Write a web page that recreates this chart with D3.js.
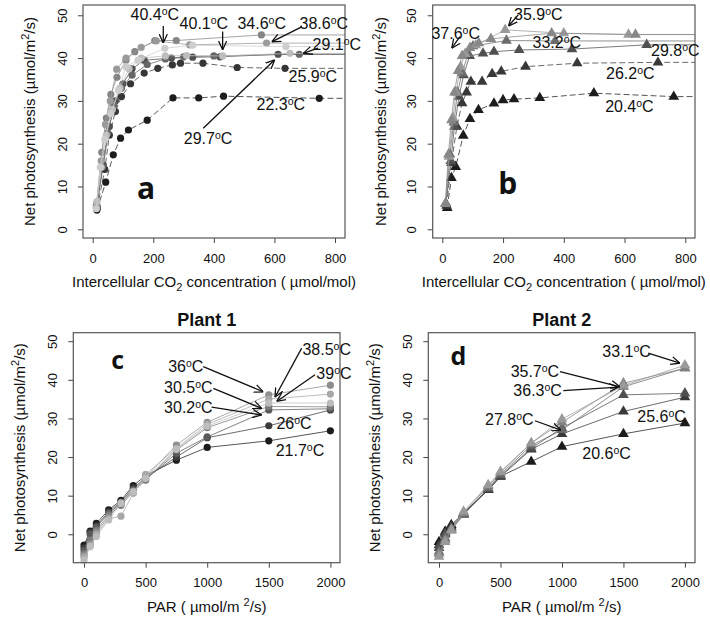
<!DOCTYPE html>
<html lang="en">
<head>
<meta charset="UTF-8">
<title>Net photosynthesis</title>
<script src="https://cdn.jsdelivr.net/npm/d3@7/dist/d3.min.js"></script>
<style>
    * { margin: 0; }
    body { background: #fff; }
    svg text { font-family: "Liberation Sans", Arial, sans-serif; fill: #111; }
</style>
</head>
<body>
<svg id="chart" width="710" height="619"></svg>
<script>
// ---- data ----
// panel a: A/Ci curves, plant 1 (circles)
const tempsA = ['22.3', '25.9', '29.7', '29.1', '34.6', '38.6', '40.1', '40.4'];
const ciA = [
    [14, 43, 68, 92, 118, 180, 265, 350, 432, 748],
    [15, 40, 55, 75, 95, 125, 170, 215, 263, 290, 364, 477, 635],
    [14, 35, 55, 75, 100, 130, 170, 260, 330, 420, 612],
    [12, 32, 50, 70, 95, 130, 180, 240, 300, 400, 682],
    [13, 30, 45, 60, 80, 110, 139, 205, 276, 557],
    [12, 28, 42, 58, 79, 110, 160, 210, 320, 574],
    [14, 28, 45, 65, 90, 120, 160, 240, 310, 429, 651],
    [12, 25, 40, 60, 85, 110, 150, 238, 330, 638]
];
const anA = [
    [4.5, 11, 17.4, 21.3, 23.2, 25.5, 30.7, 30.7, 31.1, 30.6],
    [5, 14, 22, 27.5, 31, 34, 36.5, 37.6, 38.4, 38.8, 38.8, 37.8, 37.6],
    [5.5, 15, 24, 30, 34, 37.5, 39.5, 40, 40.2, 40.3, 40.9],
    [5, 14.5, 22.5, 29, 33, 36, 38.5, 39.8, 40.3, 40.5, 40.9],
    [6, 18, 26, 31.5, 35.5, 39.5, 41.5, 44.1, 44.1, 45.4],
    [5.5, 16, 24.5, 30, 37.4, 40, 42.5, 44, 43.1, 43.5],
    [6.5, 14.5, 22, 28, 33, 37.5, 40, 40.5, 40.6, 40.5, 41.1],
    [4.8, 14.5, 21, 27, 32.5, 38, 39.5, 42.3, 43, 42.7]
];

// panel b: A/Ci curves, plant 2 (triangles)
const tempsB = ['20.4', '26.2', '29.8', '33.2', '35.9', '37.6'];
const ciB = [
    [16, 30, 44, 69, 91, 119, 170, 200, 236, 321, 499, 762],
    [14, 30, 48, 65, 80, 94, 131, 164, 194, 274, 444, 710],
    [12, 28, 40, 55, 70, 90, 134, 170, 253, 427, 673],
    [12, 25, 38, 50, 65, 85, 101, 211, 371],
    [10, 22, 35, 45, 60, 75, 110, 207, 400, 613],
    [10, 20, 30, 40, 52, 65, 91, 120, 160, 360, 636]
];
const anB = [
    [5, 12, 14.6, 21.9, 25.8, 27.9, 29.4, 30.2, 30.4, 30.7, 31.8, 31.0],
    [5.5, 15.5, 24, 29.5, 32, 34.5, 34.5, 36.3, 36.9, 38, 38.8, 39],
    [6, 16, 24, 31, 36, 40.5, 41.1, 41.5, 41.9, 42.1, 43.1],
    [6, 17.5, 25, 32, 36.5, 41, 42.8, 44.1, 44.0],
    [6, 17, 26, 32, 38, 41, 43, 46.6, 45.8, 45.5],
    [6, 17.5, 25.5, 32, 37, 40.5, 42.4, 43.5, 44.5, 45.8, 45.5]
];

// panel c: light curves, plant 1
const parC = [0, 50, 100, 200, 300, 400, 500, 750, 1000, 1500, 2000];
const tempsC = ['21.7', '26', '30.2', '30.5', '36', '38.5', '39'];
const anC = [
    [-2.8, 0.8, 2.8, 6.3, 8.8, 12.6, 15.2, 19.2, 22.5, 24.2, 26.8],
    [-3.5, 0.5, 2.2, 5.8, 8.4, 12.0, 14.6, 20.0, 25.0, 28.1, 32.2],
    [-4.2, 0.0, 1.8, 5.5, 8.0, 11.5, 14.2, 21.0, 25.2, 32.2, 32.5],
    [-5.0, -1.5, 1.0, 5.0, 7.5, 11.0, 14.0, 21.8, 27.6, 33.1, 33.0],
    [-5.5, -2.5, 0.5, 4.5, 8.2, 11.2, 14.8, 23.1, 29.0, 36.1, 38.6],
    [-6.0, -3.0, 0.0, 4.0, 4.7, 10.6, 15.5, 22.3, 28.5, 35.0, 36.3],
    [-6.7, -3.2, -0.6, 3.7, 8.0, 11.0, 14.5, 22.0, 28.0, 34.0, 34.0]
];

// panel d: light curves, plant 2
const parD = [0, 50, 100, 200, 400, 500, 750, 1000, 1500, 2000];
const tempsD = ['20.6', '25.6', '27.8', '36.3', '35.7', '33.1'];
const anD = [
    [-2.0, 0.7, 2.4, 5.5, 11.5, 15.0, 18.8, 22.7, 26.0, 28.8],
    [-2.8, 0.3, 2.0, 5.3, 11.5, 14.9, 22.0, 26.0, 31.8, 35.5],
    [-3.5, 0.0, 1.5, 5.2, 11.8, 15.2, 22.3, 27.5, 36.1, 36.5],
    [-4.5, -1.0, 1.1, 5.0, 12.0, 15.5, 23.0, 27.0, 38.2, 43.0],
    [-5.0, -1.5, 1.3, 5.5, 12.5, 16.0, 23.6, 29.0, 39.1, 43.0],
    [-5.8, -2.0, 1.0, 5.9, 12.8, 16.2, 23.6, 29.8, 38.5, 43.8]
];

const ciTicks = [0, 200, 400, 600, 800];
const parTicks = [0, 500, 1000, 1500, 2000];
const anTicks = [0, 10, 20, 30, 40, 50];

// temperature labels: [text, x, y] and optional arrow [x1, y1, x2, y2], in data units
const labA = [
    ['40.4', 205, 50.1, [233, 47.5, 233, 43.5]],
    ['40.1', 367, 48.1, [429, 46.2, 429, 41.9]],
    ['34.6', 558, 48.1],
    ['38.6', 763, 48.1, [690, 47.3, 591, 43.8]],
    ['29.1', 806, 43.1, [744, 42.3, 695, 41.1]],
    ['25.9', 727, 35.8],
    ['22.3', 621, 29.2],
    ['29.7', 381, 21.3, [365, 23.6, 601, 39.6]]
];
const labB = [
    ['37.6', 44, 45.8, [58, 45.0, 31, 42.3]],
    ['35.9', 316, 50.1, [250, 50.1, 218, 47.5]],
    ['33.2', 377, 43.6],
    ['29.8', 767, 41.9],
    ['26.2', 619, 36.4],
    ['20.4', 616, 28.8]
];
const labC = [
    ['36', 826, 43.6, [968, 43.4, 1455, 36.9]],
    ['30.5', 847, 38.1, [1050, 37.8, 1442, 32.6]],
    ['30.2', 847, 32.9, [1036, 32.9, 1442, 30.9]],
    ['38.5', 1970, 47.9, [1767, 48.2, 1550, 35.5]],
    ['39', 2029, 41.7, [1875, 41.3, 1564, 34.4]],
    ['26', 1705, 28.6],
    ['21.7', 1753, 21.8]
];
const labD = [
    ['33.1', 1526, 47.3, [1702, 46.9, 1959, 44.3]],
    ['35.7', 780, 42.1, [984, 42.1, 1472, 38.2]],
    ['36.3', 802, 37.2, [1011, 37.2, 1458, 38.1]],
    ['27.8', 572, 29.8, [780, 29.4, 992, 27.0]],
    ['25.6', 1810, 30.5],
    ['20.6', 1363, 21.0]
];

// ---- drawing ----
const svg = d3.select('#chart');

svg.append('defs').append('marker')
    .attr('id', 'head')
    .attr('viewBox', '0 0 10 10')
    .attr('refX', 10).attr('refY', 5)
    .attr('markerWidth', 9).attr('markerHeight', 9)
    .attr('markerUnits', 'userSpaceOnUse')
    .attr('orient', 'auto')
    .append('path')
    .attr('d', 'M0,0.5 L10,5 L0,9.5')
    .attr('fill', 'none').attr('stroke', '#111').attr('stroke-width', 1.4);

const panels = [
    { letter: 'a', box: [83, 345, 5, 238], xd: [-32, 833], yd: [-2.03, 52.4], xt: ciTicks,
      xs: ciA, ys: anA, temps: tempsA, labs: labA, shape: 'circle',
      grays: ['#1c1c1c', '#363636', '#4f4f4f', '#666', '#858585', '#9a9a9a', '#bdbdbd', '#cdcdcd'],
      extend: true, dashed: true, title: null, ytx: 30, lpos: [176, 9.6], lsize: 30, xlab: 'ci' },
    { letter: 'b', box: [432.7, 695, 5, 238], xd: [-31.7, 832], yd: [-2.03, 52.4], xt: ciTicks,
      xs: ciB, ys: anB, temps: tempsB, labs: labB, shape: 'tri',
      grays: ['#1c1c1c', '#383838', '#505050', '#6c6c6c', '#9a9a9a', '#888'],
      extend: true, dashed: true, title: null, ytx: 381, lpos: [215, 10.7], lsize: 30, xlab: 'ci' },
    { letter: 'c', box: [73.3, 340, 332.7, 562.7], xd: [-87, 2078], yd: [-7.36, 52.2], xt: parTicks,
      xs: tempsC.map(() => parC), ys: anC, temps: tempsC, labs: labC, shape: 'circle',
      grays: ['#1c1c1c', '#3c3c3c', '#5a5a5a', '#7a7a7a', '#8e8e8e', '#a8a8a8', '#bdbdbd'],
      extend: false, dashed: false, title: 'Plant 1', ytx: 20, lpos: [274, 45], lsize: 25, xlab: 'par' },
    { letter: 'd', box: [428.3, 695, 332.7, 562.7], xd: [-87, 2082], yd: [-7.36, 52.2], xt: parTicks,
      xs: tempsD.map(() => parD), ys: anD, temps: tempsD, labs: labD, shape: 'tri',
      grays: ['#1c1c1c', '#3a3a3a', '#505050', '#6a6a6a', '#808080', '#9a9a9a'],
      extend: false, dashed: false, title: 'Plant 2', ytx: 375, lpos: [157, 46], lsize: 25, xlab: 'par' }
];

panels.forEach(drawPanel);

function drawPanel(p) {
    const [left, right, top, bottom] = p.box;
    const x = d3.scaleLinear().domain(p.xd).range([left, right]);
    const y = d3.scaleLinear().domain(p.yd).range([bottom, top]);
    const g = svg.append('g');

    // axes (R style: ticks outside, labels parallel to the axis)
    const gx = g.append('g').attr('transform', `translate(0,${bottom})`)
        .call(d3.axisBottom(x).tickValues(p.xt).tickSize(5).tickFormat(d3.format('d')));
    gx.select('.domain').remove();
    gx.selectAll('text').attr('y', 20).attr('dy', '0.35em')
        .style('font-size', '13px').style('font-family', '"Liberation Sans", Arial, sans-serif').attr('fill', '#111');

    const gy = g.append('g').attr('transform', `translate(${left},0)`)
        .call(d3.axisLeft(y).tickValues(anTicks).tickSize(5));
    gy.select('.domain').remove();
    gy.selectAll('text').attr('x', 0).attr('dy', '0.35em')
        .attr('text-anchor', 'middle').attr('transform', 'translate(-21,0) rotate(-90)')
        .style('font-size', '13px').style('font-family', '"Liberation Sans", Arial, sans-serif').attr('fill', '#111');
    g.selectAll('.tick line').attr('stroke', '#444');

    // series
    const line = d3.line().x(d => x(d[0])).y(d => y(d[1]));
    p.temps.forEach((t, i) => {
        const pts = p.xs[i].map((v, j) => [v, p.ys[i][j]]);
        const col = p.grays[i];
        let path = pts.slice();
        if (p.extend) path.push([p.xd[1], pts[pts.length - 1][1]]);
        g.append('path').attr('d', line(path))
            .attr('fill', 'none').attr('stroke', col).attr('stroke-width', 0.75)
            .attr('stroke-dasharray', p.dashed && i < 2 ? '6,3' : null);
        if (p.shape === 'circle') {
            g.selectAll(null).data(pts).join('circle')
                .attr('cx', d => x(d[0])).attr('cy', d => y(d[1]))
                .attr('r', 3.6).attr('fill', col);
        } else {
            const tri = d3.symbol().type(d3.symbolTriangle).size(50);
            g.selectAll(null).data(pts).join('path')
                .attr('d', tri)
                .attr('transform', d => `translate(${x(d[0])},${y(d[1])})`)
                .attr('fill', col);
        }
    });

    // box
    g.append('rect').attr('x', left).attr('y', top)
        .attr('width', right - left).attr('height', bottom - top)
        .attr('fill', 'none').attr('stroke', '#555').attr('stroke-width', 1.2);

    // temperature annotations
    p.labs.forEach(l => {
        if (l[3]) {
            const a = l[3];
            g.append('line')
                .attr('x1', x(a[0])).attr('y1', y(a[1]))
                .attr('x2', x(a[2])).attr('y2', y(a[3]))
                .attr('stroke', '#111').attr('stroke-width', 1.3)
                .attr('marker-end', 'url(#head)');
        }
        const tx = g.append('text').attr('x', x(l[1])).attr('y', y(l[2]))
            .attr('dy', '0.35em').attr('text-anchor', 'middle').style('font-size', '16px');
        tx.append('tspan').text(l[0]);
        tx.append('tspan').text('o').style('font-size', '10.5px').attr('dy', -5);
        tx.append('tspan').text('C').attr('dy', 5);
    });

    // panel letter
    g.append('text').attr('x', x(p.lpos[0])).attr('y', y(p.lpos[1]))
        .attr('dy', '0.35em').attr('text-anchor', 'middle')
        .style('font-size', p.lsize + 'px').style('font-weight', 'bold')
        .style('font-family', '"Open Sans", "Liberation Sans", sans-serif')
        .text(p.letter);

    // plant title
    if (p.title) {
        g.append('text').attr('x', (left + right) / 2).attr('y', 320)
            .attr('dy', '0.35em').attr('text-anchor', 'middle')
            .style('font-size', '18px').style('font-weight', 'bold').text(p.title);
    }

    // axis titles
    const xt = g.append('text').attr('x', (left + right) / 2).attr('y', bottom + 44)
        .attr('dy', '0.35em').attr('text-anchor', 'middle').style('font-size', '15px');
    if (p.xlab === 'ci') {
        xt.append('tspan').text('Intercellular CO');
        xt.append('tspan').text('2').style('font-size', '11px').attr('dy', 4);
        xt.append('tspan').text(' concentration ( \u00b5mol/mol)').attr('dy', -4);
    } else {
        xt.append('tspan').text('PAR ( \u00b5mol/m ');
        xt.append('tspan').text('2').style('font-size', '11px').attr('dy', -6);
        xt.append('tspan').text('/s)').attr('dy', 6);
    }

    const yt = g.append('text')
        .attr('transform', `translate(${p.ytx},${(top + bottom) / 2}) rotate(-90)`)
        .attr('dy', '0.35em').attr('text-anchor', 'middle').style('font-size', '15px');
    yt.append('tspan').text('Net photosynthesis (\u00b5mol/m');
    yt.append('tspan').text('2').style('font-size', '11px').attr('dy', -6);
    yt.append('tspan').text('/s)').attr('dy', 6);
}
</script>
</body>
</html>
